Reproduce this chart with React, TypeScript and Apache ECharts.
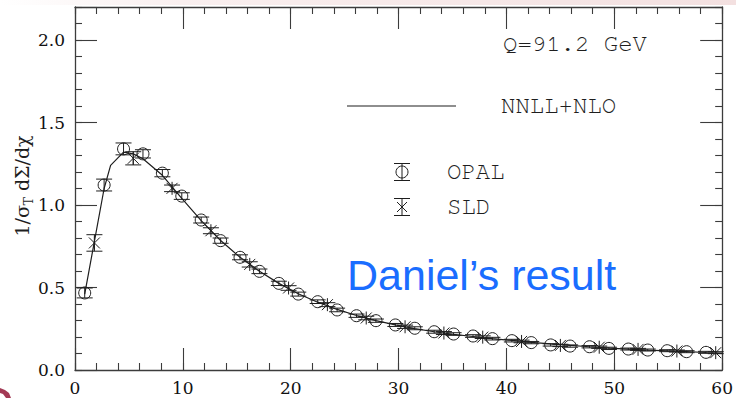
import React, { useEffect, useRef } from "react";
import * as echarts from "echarts";

// OPAL energy-energy correlation, bin centres (degrees), values and errors
const opalChi = [0.9, 2.7, 4.5, 6.3, 8.1, 9.9, 11.7, 13.5, 15.3, 17.1, 18.9, 20.7, 22.5, 24.3, 26.1, 27.9, 29.7, 31.5, 33.3, 35.1, 36.9, 38.7, 40.5, 42.3, 44.1, 45.9, 47.7, 49.5, 51.3, 53.1, 54.9, 56.7, 58.5];
const opalVal = [0.467, 1.121, 1.34, 1.31, 1.193, 1.054, 0.909, 0.784, 0.683, 0.598, 0.525, 0.46, 0.414, 0.364, 0.329, 0.299, 0.273, 0.253, 0.232, 0.218, 0.206, 0.19, 0.178, 0.166, 0.152, 0.145, 0.141, 0.131, 0.127, 0.121, 0.117, 0.111, 0.107];
const opalErr = [0.03, 0.036, 0.036, 0.025, 0.022, 0.02, 0.018, 0.016, 0.015, 0.014, 0.013, 0.012, 0.011, 0.011, 0.01, 0.01, 0.009, 0.009, 0.009, 0.008, 0.008, 0.008, 0.008, 0.007, 0.007, 0.007, 0.007, 0.007, 0.006, 0.006, 0.006, 0.006, 0.006];

// SLD measurement
const sldChi = [1.8, 5.4, 9.0, 12.6, 16.2, 19.8, 23.4, 27.0, 30.6, 34.2, 37.8, 41.4, 45.0, 48.6, 52.2, 55.8, 59.4];
const sldVal = [0.77, 1.283, 1.101, 0.844, 0.64, 0.497, 0.396, 0.315, 0.262, 0.224, 0.199, 0.173, 0.149, 0.138, 0.125, 0.115, 0.105];
const sldErr = [0.05, 0.04, 0.02, 0.018, 0.016, 0.014, 0.012, 0.011, 0.01, 0.009, 0.008, 0.008, 0.007, 0.007, 0.006, 0.006, 0.006];

// NNLL+NLO prediction
const theoryChi = [0.9, 1.8, 2.7, 3.3, 4.5, 5.4, 6.3, 8.1, 9.9, 11.7, 13.5, 15.3, 17.1, 18.9, 20.7, 22.5, 24.3, 26.1, 27.9, 29.7, 31.5, 33.3, 35.1, 36.9, 38.7, 40.5, 42.3, 44.1, 45.9, 47.7, 49.5, 51.3, 53.1, 54.9, 56.7, 58.5, 60];
const theoryVal = [0.46, 0.78, 1.1, 1.24, 1.32, 1.31, 1.28, 1.18, 1.04, 0.905, 0.785, 0.683, 0.598, 0.525, 0.462, 0.411, 0.367, 0.33, 0.299, 0.273, 0.251, 0.232, 0.216, 0.203, 0.19, 0.179, 0.168, 0.158, 0.149, 0.141, 0.133, 0.127, 0.121, 0.116, 0.111, 0.106, 0.103];

// Axis ranges and tick steps
const xRange = [0, 60];
const yRange = [0, 2.2];
const xMajor = 10;
const xMinor = 2;
const yMajor = 0.5;
const yMinor = 0.1;

const INK = "#1e1e1e";
const FRAME = "#3c3c3c";
const SERIF = '"DejaVu Serif", "Liberation Serif", serif';
const TYPEWRITER = '"Nimbus Mono PS", "Nimbus Mono L", FreeMono, "Courier 10 Pitch", "Liberation Mono", monospace';

function errorBars(name: string, chi: number[], val: number[], err: number[], marker: "circle" | "star") {
  return {
    type: "custom",
    name,
    xAxisIndex: 0,
    yAxisIndex: 0,
    data: chi.map((c, i) => [c, val[i], err[i]]),
    encode: { x: 0, y: 1 },
    z: 4,
    renderItem: (_params: any, api: any) => {
      const x = api.value(0);
      const y = api.value(1);
      const e = api.value(2);
      const p = api.coord([x, y]);
      const top = api.coord([x, y + e])[1];
      const bot = api.coord([x, y - e])[1];
      const cap = 8;
      const st = { stroke: INK, lineWidth: 1, fill: "none" };
      const children: any[] = [
        { type: "line", shape: { x1: p[0], y1: top, x2: p[0], y2: bot }, style: st },
        { type: "line", shape: { x1: p[0] - cap, y1: top, x2: p[0] + cap, y2: top }, style: st },
        { type: "line", shape: { x1: p[0] - cap, y1: bot, x2: p[0] + cap, y2: bot }, style: st },
      ];
      if (marker === "circle") {
        children.push({ type: "circle", shape: { cx: p[0], cy: p[1], r: 6 }, style: st });
      } else {
        const h = 5.5;
        children.push(
          { type: "line", shape: { x1: p[0] - h, y1: p[1] - h, x2: p[0] + h, y2: p[1] + h }, style: st },
          { type: "line", shape: { x1: p[0] - h, y1: p[1] + h, x2: p[0] + h, y2: p[1] - h }, style: st },
          { type: "line", shape: { x1: p[0], y1: p[1] - h - 1, x2: p[0], y2: p[1] + h + 1 }, style: st }
        );
      }
      return { type: "group", children };
    },
  };
}

function axisBase(kind: "x" | "y", position: string, step: number, len: number, labels: boolean) {
  const range = kind === "x" ? xRange : yRange;
  return {
    type: "value",
    position,
    min: range[0],
    max: range[1],
    interval: step,
    axisLine: { show: len > 10, onZero: false, lineStyle: { color: FRAME, width: 1.3 } },
    axisTick: { show: true, inside: true, length: len, lineStyle: { color: FRAME, width: 1.1 } },
    splitLine: { show: false },
    axisLabel: labels
      ? {
          show: true,
          color: "#111",
          fontFamily: SERIF,
          fontSize: 17,
          margin: kind === "x" ? 9 : 10,
          formatter:
            kind === "x"
              ? (v: number) => String(Math.round(v))
              : (v: number) => (Math.round(v * 10) % 5 === 0 ? v.toFixed(1) : ""),
        }
      : { show: false },
  };
}

export default function App() {
  const ref = useRef<HTMLDivElement>(null);

  useEffect(() => {
    if (!ref.current) return;
    const chart = echarts.init(ref.current, undefined, { renderer: "svg" });

    const legendText = (text: string, x: number, y: number) => ({
      type: "text",
      x,
      y,
      style: { text, fontFamily: TYPEWRITER, fontSize: 24, fill: INK, align: "left", verticalAlign: "middle" },
    });
    const legendSymbol = (cx: number, cy: number, marker: "circle" | "star") => {
      const st = { stroke: INK, lineWidth: 1, fill: "none" };
      const items: any[] = [
        { type: "line", shape: { x1: cx, y1: cy - 8.5, x2: cx, y2: cy + 8.5 }, style: st },
        { type: "line", shape: { x1: cx - 8, y1: cy - 8.5, x2: cx + 8, y2: cy - 8.5 }, style: st },
        { type: "line", shape: { x1: cx - 8, y1: cy + 8.5, x2: cx + 8, y2: cy + 8.5 }, style: st },
      ];
      if (marker === "circle") items.push({ type: "circle", shape: { cx, cy, r: 6 }, style: st });
      else
        items.push(
          { type: "line", shape: { x1: cx - 5, y1: cy - 5, x2: cx + 5, y2: cy + 5 }, style: st },
          { type: "line", shape: { x1: cx - 5, y1: cy + 5, x2: cx + 5, y2: cy - 5 }, style: st }
        );
      return { type: "group", children: items };
    };

    chart.setOption({
      animation: false,
      backgroundColor: "#ffffff",
      grid: { left: 75, right: 9, top: 7, bottom: 28, containLabel: false },
      // major axes first, then the minor-tick axes for both sides of the frame
      xAxis: [
        axisBase("x", "bottom", xMajor, 22, true),
        axisBase("x", "top", xMajor, 22, false),
        axisBase("x", "bottom", xMinor, 7, false),
        axisBase("x", "top", xMinor, 7, false),
      ],
      yAxis: [
        axisBase("y", "left", yMajor, 22, true),
        axisBase("y", "right", yMajor, 22, false),
        axisBase("y", "left", yMinor, 7, false),
        axisBase("y", "right", yMinor, 7, false),
      ],
      series: [
        {
          type: "line",
          name: "NNLL+NLO",
          xAxisIndex: 0,
          yAxisIndex: 0,
          data: theoryChi.map((c, i) => [c, theoryVal[i]]),
          showSymbol: false,
          symbol: "none",
          lineStyle: { color: INK, width: 1.2 },
          z: 3,
        },
        errorBars("OPAL", opalChi, opalVal, opalErr, "circle"),
        errorBars("SLD", sldChi, sldVal, sldErr, "star"),
      ],
      graphic: [
        {
          type: "rect",
          shape: { x: 0, y: 0, width: 736, height: 5 },
          style: {
            fill: new echarts.graphic.LinearGradient(0, 0, 1, 0, [
              { offset: 0, color: "rgba(245,228,228,0)" },
              { offset: 0.25, color: "rgba(245,228,228,0.6)" },
              { offset: 1, color: "rgba(243,224,224,1)" },
            ]),
          },
          z: -10,
        },
        {
          type: "polygon",
          shape: { points: [[0, 388], [5, 390], [9, 393], [11, 398], [6, 398], [3, 394], [0, 393]] },
          style: { fill: "#a33a55" },
        },
        {
          type: "text",
          x: 22,
          y: 186,
          rotation: Math.PI / 2,
          style: {
            text: "{a|1/σ}{s|T}{a| dΣ/dχ}",
            align: "center",
            verticalAlign: "middle",
            rich: {
              a: { fontFamily: SERIF, fontSize: 19, fill: INK, lineHeight: 26, verticalAlign: "middle" },
              s: { fontFamily: SERIF, fontSize: 12, fill: INK, lineHeight: 26, verticalAlign: "bottom" },
            },
          },
        },
        legendText("Q=91.2 GeV", 503, 44),
        { type: "line", shape: { x1: 347, y1: 106, x2: 456, y2: 106 }, style: { stroke: INK, lineWidth: 1.2 } },
        legendText("NNLL+NLO", 501, 106),
        legendSymbol(402, 172, "circle"),
        legendText("OPAL", 447, 172),
        legendSymbol(402, 207, "star"),
        legendText("SLD", 447, 207),
        {
          type: "text",
          x: 347,
          y: 275,
          style: {
            text: "Daniel’s result",
            fontFamily: '"Liberation Sans", Arial, sans-serif',
            fontSize: 43,
            fill: "#1a6dff",
            align: "left",
            verticalAlign: "middle",
          },
        },
      ],
    });

    return () => chart.dispose();
  }, []);

  return <div ref={ref} style={{ width: 736, height: 398, position: "fixed", left: 0, top: 0 }} />;
}
